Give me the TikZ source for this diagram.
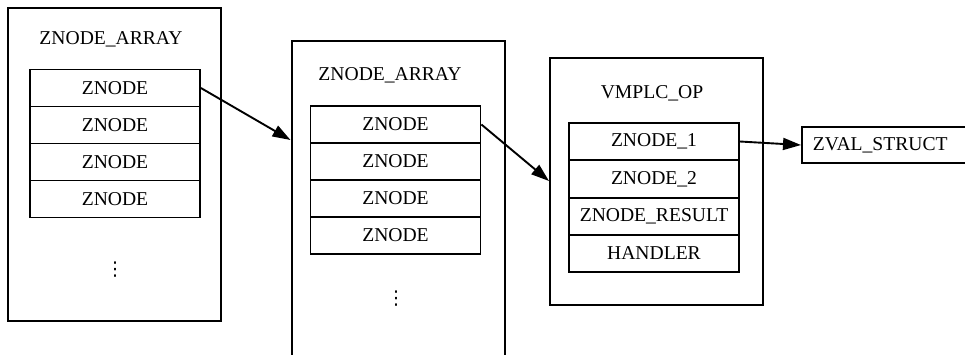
\documentclass[tikz,border=0pt]{standalone}
\usepackage{fontspec}
\setmainfont{Liberation Serif}
\newfontfamily\dotfont{DejaVu Sans}
\usetikzlibrary{arrows.meta}
\begin{document}
\begin{tikzpicture}[x=1pt,y=-1pt,
  every node/.style={font=\fontsize{19.6}{22}\selectfont, inner sep=0pt},
  outer/.style={draw, line width=2pt, minimum width=213pt},
  row/.style={draw, line width=1.8pt, minimum width=170pt, minimum height=37pt},
  arr/.style={line width=1.9pt, -{Triangle[length=18pt,width=12pt]}},
  dotstack/.style={font=\dotfont\fontsize{19}{22}\selectfont}]
\useasboundingbox (0,0) rectangle (965,354);
\clip (0,0) rectangle (965,354);
% box 1
\node[outer, minimum height=313pt] (b1) at (114.5,164.5) {};
\node (t1) at (111,39) {ZNODE\_ARRAY};
\node[row] (a1) at (115,88) {ZNODE};
\node[row] (a2) at (115,125) {ZNODE};
\node[row] (a3) at (115,162) {ZNODE};
\node[row] (a4) at (115,199) {ZNODE};
\node[dotstack] (d1) at (115,270) {⋮};
% box 2
\node[outer, minimum height=380pt] (b2) at (398,231) {};
\node (t2) at (390,75) {ZNODE\_ARRAY};
\node[row] (c1) at (395.5,124.5) {ZNODE};
\node[row] (c2) at (395.5,161.5) {ZNODE};
\node[row] (c3) at (395.5,198.5) {ZNODE};
\node[row] (c4) at (395.5,235.5) {ZNODE};
\node[dotstack] (d2) at (396,299) {⋮};
% box 3
\node[outer, minimum height=247pt] (b3) at (656.5,181.5) {};
\node (t3) at (652,93) {VMPLC\_OP};
\node[row] (v1) at (654,141.5) {ZNODE\_1};
\node[row] (v2) at (654,179) {ZNODE\_2};
\node[row] (v3) at (654,216.5) {ZNODE\_RESULT};
\node[row] (v4) at (654,253.5) {HANDLER};
% zval
\node[draw, line width=1.8pt, anchor=west, minimum height=36pt, text width=190pt, inner xsep=11pt, align=left] (z) at (801,145) {ZVAL\_STRUCT};
% arrows
\draw[arr] (a1.east) -- (b2.west |- 0,140);
\draw[arr] (c1.east) -- (b3.west |- 0,181);
\draw[arr] (v1.east) -- (z.west);
\end{tikzpicture}
\end{document}
